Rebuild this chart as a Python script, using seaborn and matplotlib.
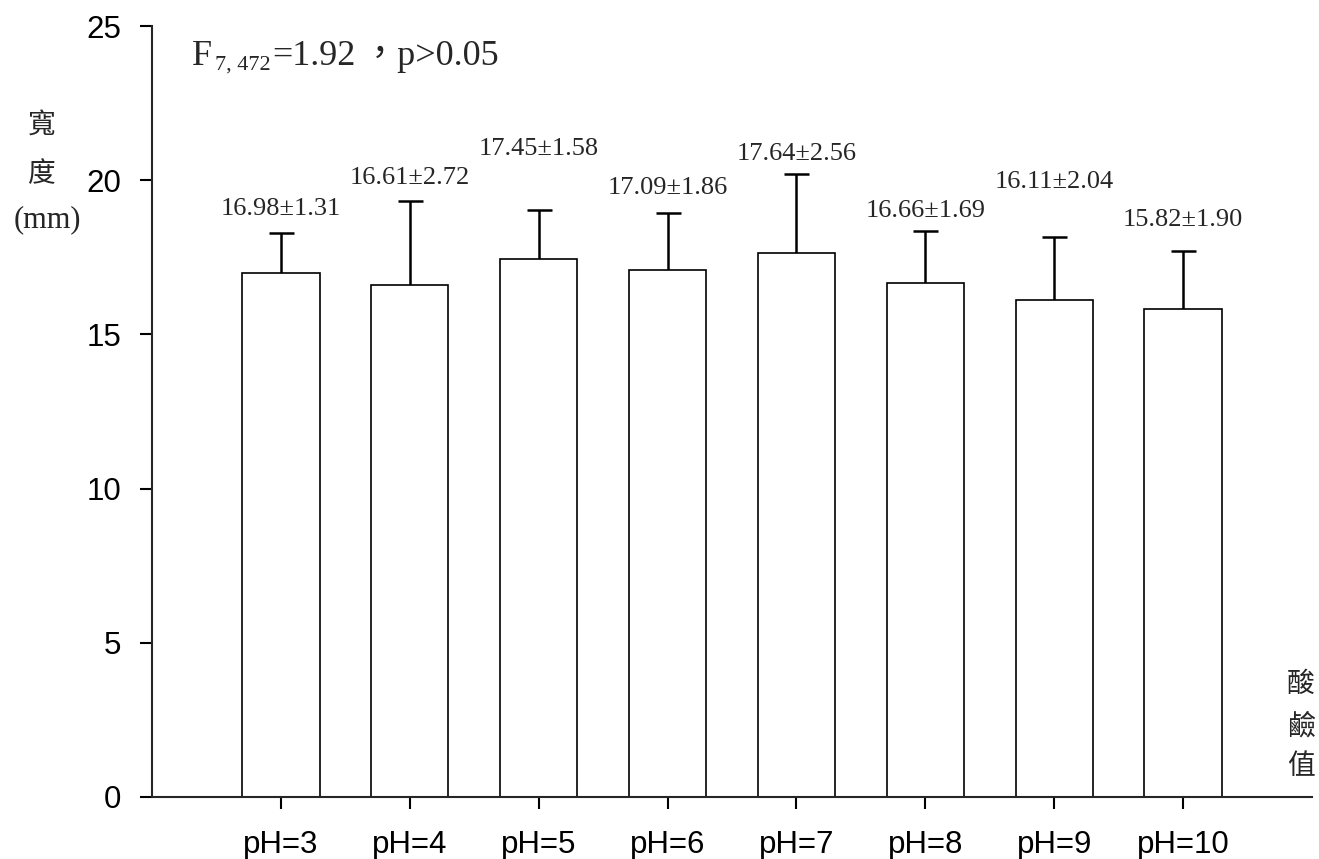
import numpy as np
import pandas as pd
import matplotlib
matplotlib.use('Agg')
import matplotlib.pyplot as plt
import seaborn as sns

# data
ph_labels = ['pH=3', 'pH=4', 'pH=5', 'pH=6', 'pH=7', 'pH=8', 'pH=9', 'pH=10']
width_mean = [16.98, 16.61, 17.45, 17.09, 17.64, 16.66, 16.11, 15.82]
width_sd = [1.31, 2.72, 1.58, 1.86, 2.56, 1.69, 2.04, 1.90]
y_ticks = [0, 5, 10, 15, 20, 25]

# how far above each error cap the value label sits (data units)
label_gap = [0.78, 0.75, 1.98, 0.81, 0.65, 0.65, 1.79, 1.0]

sns.set_style('ticks')
plt.rcParams['font.family'] = ['Liberation Sans', 'Noto Sans CJK TC']

W, H = 1319, 859
fig = plt.figure(figsize=(W / 100, H / 100), dpi=100)
ax = fig.add_axes([152 / W, (H - 797) / H, (1312 - 152) / W, (797 - 26) / H])

df = pd.DataFrame({'ph': ph_labels, 'mean': width_mean, 'sd': width_sd})

sns.barplot(data=df, x='ph', y='mean', color='white', saturation=1,
            edgecolor='black', linewidth=1.2, width=0.6, errorbar=None,
            ax=ax, zorder=2)

pos = np.arange(len(ph_labels))
# error bars drawn beneath the white bars so only the upper half shows
ax.errorbar(pos, df['mean'], yerr=df['sd'], fmt='none', ecolor='black',
            elinewidth=1.8, capsize=9, capthick=1.8, zorder=1)

serif = ['Liberation Serif', 'Noto Sans CJK TC']
for i, (m, s) in enumerate(zip(width_mean, width_sd)):
    ax.text(i, m + s + label_gap[i], f'{m:.2f}\u00b1{s:.2f}',
            ha='center', va='center', fontsize=19, family=serif)

ax.set_xlim(-1, 8)
ax.set_ylim(0, 25)
ax.set_yticks(y_ticks)
ax.set_xlabel('')
ax.set_ylabel('')
sns.despine(ax=ax)
for sp in ['left', 'bottom']:
    ax.spines[sp].set_linewidth(1.5)
ax.tick_params(axis='both', direction='out', length=8.6, width=1.5,
               labelsize=22.5, colors='black')
ax.tick_params(axis='y', pad=13.5)
ax.tick_params(axis='x', pad=15)


def ftext(x, y, s, size, fam=serif, **kw):
    fig.text(x / W, 1 - y / H, s, fontsize=size, family=fam,
             ha=kw.pop('ha', 'left'), va=kw.pop('va', 'baseline'), **kw)


# F statistic annotation, pieced together
ftext(192, 65, 'F', 26)
ftext(215, 70, '7, 472', 16)
ftext(272, 65, '=1.92', 26)
ftext(362, 65, '\uff0cp>0.05', 26)

# stacked axis titles
ftext(42, 126, '寬', 20, va='center', ha='center')
ftext(42, 175, '度', 20, va='center', ha='center')
ftext(47, 220, '(mm)', 22, va='center', ha='center')
for txt, yy in zip(['酸', '鹼', '值'], [685, 727, 767]):
    ftext(1301, yy, txt, 20, va='center', ha='center')

fig.savefig('out.png', dpi=100, facecolor='white')
